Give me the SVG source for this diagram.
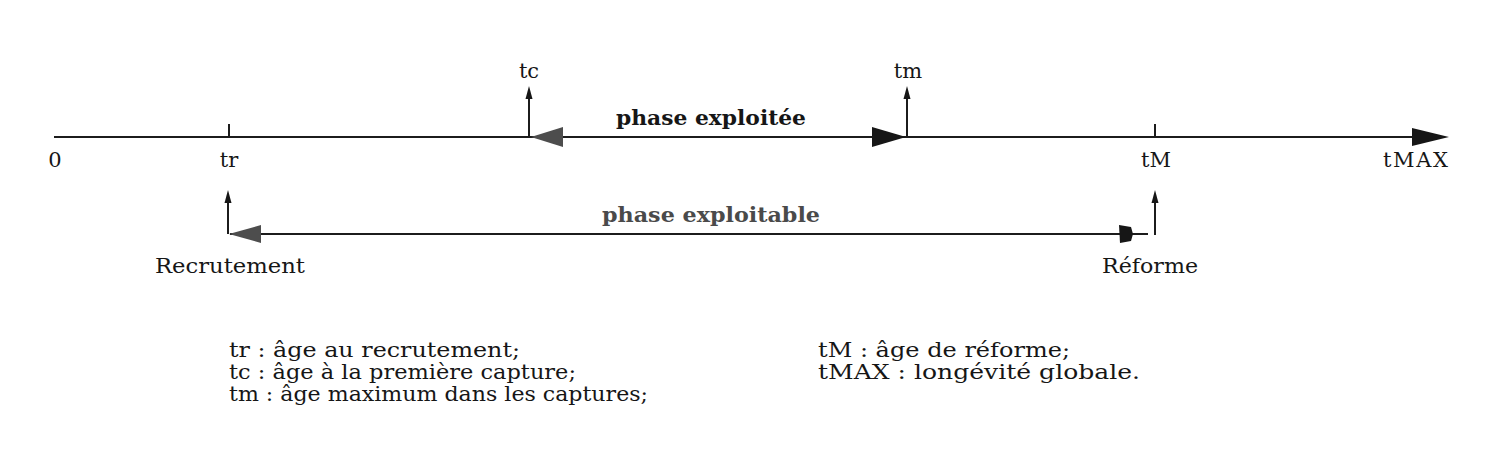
<svg xmlns="http://www.w3.org/2000/svg" width="1492" height="450" viewBox="0 0 1492 450">
<style>
.t{font-family:"DejaVu Serif","Liberation Serif",serif;font-size:21px;fill:#161616}
.lg{font-family:"DejaVu Serif","Liberation Serif",serif;font-size:21px;fill:#161616}
.b{font-family:"DejaVu Serif","Liberation Serif",serif;font-size:20px;font-weight:bold}
.ln{stroke:#1c1c1c;stroke-width:2;fill:none}
.hd{fill:#161616}
.gh{fill:#4d4d4d}
</style>
<rect width="1492" height="450" fill="#ffffff"/>
<g id="connectors">
  <line class="ln" x1="54" y1="137" x2="1416" y2="137"/>
  <path class="hd" d="M1449,137 L1412,128 L1412,146 Z"/>
  <line class="ln" x1="229" y1="124" x2="229" y2="137"/>
  <line class="ln" x1="1155" y1="124" x2="1155" y2="137"/>
  <line class="ln" x1="529" y1="137" x2="529" y2="96"/>
  <path class="hd" d="M529,86 L532.5,99 L525.5,99 Z"/>
  <line class="ln" x1="907" y1="137" x2="907" y2="96"/>
  <path class="hd" d="M907,86 L910.5,99 L903.5,99 Z"/>
  <path class="gh" d="M531,137 L563,127 L563,147 Z"/>
  <path class="hd" d="M906,137 L872,127 L872,147 Z"/>
  <line class="ln" x1="228" y1="234" x2="228" y2="200"/>
  <path class="hd" d="M228,190 L231.5,203 L224.5,203 Z"/>
  <line class="ln" x1="1155" y1="235" x2="1155" y2="200"/>
  <path class="hd" d="M1155,190 L1158.5,203 L1151.5,203 Z"/>
  <line class="ln" x1="230" y1="234" x2="1148" y2="234" stroke="#3a3a3a"/>
  <path class="gh" d="M229,234 L261,225 L261,243 Z"/>
  <path class="hd" d="M1133,234 L1131,227 L1119,225 L1120,243 L1131,241 Z"/>
</g>
<g id="axis-labels">
  <text class="t" x="55" y="167" text-anchor="middle">0</text>
  <text class="t" x="229" y="167" text-anchor="middle">tr</text>
  <text class="t" x="1156" y="167" text-anchor="middle">tM</text>
  <text class="t" x="1383" y="167" textLength="65" lengthAdjust="spacing">tMAX</text>
  <text class="t" x="529" y="78" text-anchor="middle">tc</text>
  <text class="t" x="908" y="78" text-anchor="middle">tm</text>
</g>
<g id="phase-exploitee">
  <text class="b" x="616" y="125" textLength="190" lengthAdjust="spacingAndGlyphs" fill="#161616">phase exploitée</text>
</g>
<g id="phase-exploitable">
  <text class="b" x="602" y="222" textLength="218" lengthAdjust="spacingAndGlyphs" fill="#4a4a4a">phase exploitable</text>
</g>
<g id="recrutement">
  <text class="t" x="155" y="273" font-size="23" textLength="150" lengthAdjust="spacingAndGlyphs">Recrutement</text>
</g>
<g id="reforme">
  <text class="t" x="1102" y="273" font-size="23" textLength="96" lengthAdjust="spacingAndGlyphs">Réforme</text>
</g>
<g id="legend">
  <text class="lg" x="229" y="357" textLength="291" lengthAdjust="spacingAndGlyphs">tr : âge au recrutement;</text>
  <text class="lg" x="229" y="379" textLength="347" lengthAdjust="spacingAndGlyphs">tc : âge à la première capture;</text>
  <text class="lg" x="229" y="401" textLength="419" lengthAdjust="spacingAndGlyphs">tm : âge maximum dans les captures;</text>
  <text class="lg" x="818" y="357" textLength="252" lengthAdjust="spacingAndGlyphs">tM : âge de réforme;</text>
  <text class="lg" x="818" y="379" textLength="322" lengthAdjust="spacingAndGlyphs">tMAX : longévité globale.</text>
</g>
</svg>
